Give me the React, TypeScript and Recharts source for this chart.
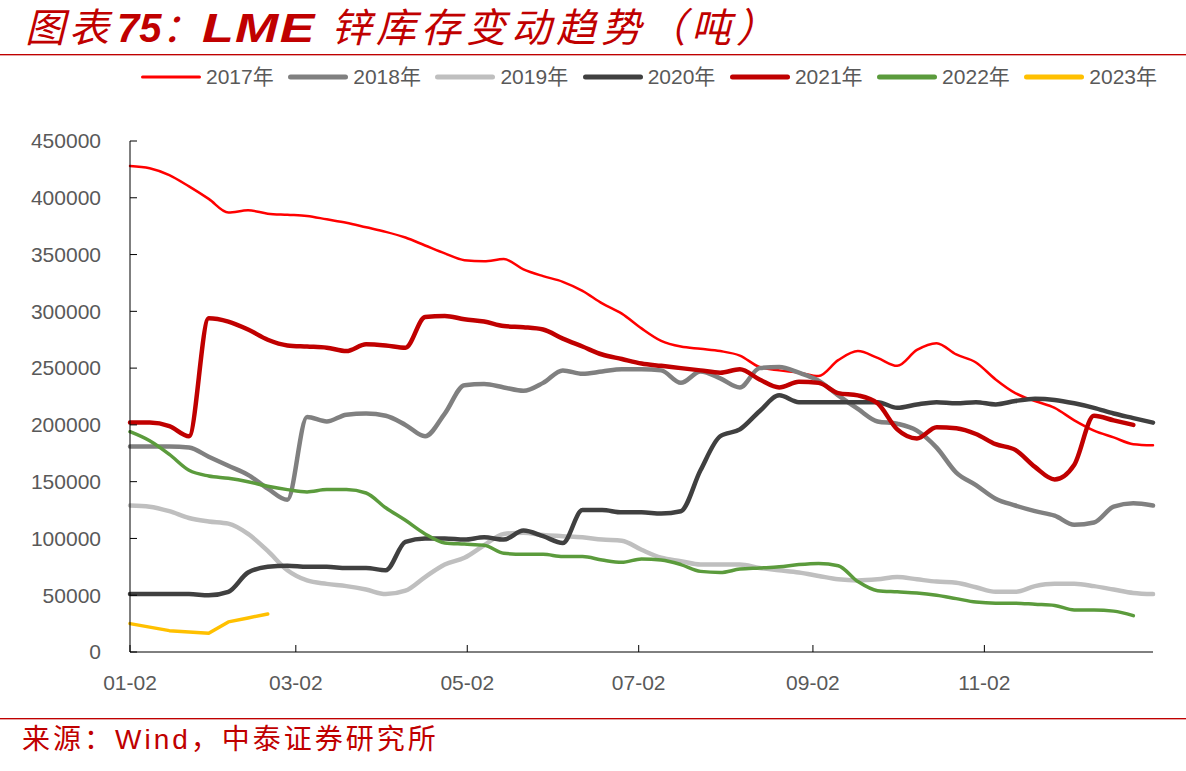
import React from "react";
import { LineChart, Line, XAxis, YAxis } from "recharts";

// day offsets from 01-02 (weekly samples)
const days = [
  0, 7, 14, 21, 28, 35, 42, 49, 56, 63, 70, 77, 84, 91, 98, 105, 112, 119, 126, 133,
  140, 147, 154, 161, 168, 175, 182, 189, 196, 203, 210, 217, 224, 231, 238, 245, 252,
  259, 266, 273, 280, 287, 294, 301, 308, 315, 322, 329, 336, 343, 350, 357, 364,
];
const tickDays = [0, 59, 120, 181, 243, 304];
const tickLabels = ["01-02", "03-02", "05-02", "07-02", "09-02", "11-02"];
const yTicks = [0, 50000, 100000, 150000, 200000, 250000, 300000, 350000, 400000, 450000];

const s2017 = [
  428000, 426000, 420000, 410000, 399000, 387000, 389000, 386000, 385000, 384000, 381000,
  378000, 374000, 370000, 365000, 358000, 351000, 345000, 344000, 346000, 337000, 331000,
  326000, 318000, 307000, 298000, 285000, 274000, 269000, 267000, 265000, 261000, 251000,
  248000, 246000, 243000, 257000, 265000, 259000, 252000, 266000, 272000, 262000, 255000,
  240000, 228000, 221000, 215000, 204000, 195000, 189000, 183000, 182000,
];
const s2018 = [
  181000, 181000, 181000, 180000, 172000, 164000, 156000, 144000, 134000, 207000, 203000,
  209000, 210000, 208000, 200000, 190000, 210000, 235000, 236000, 233000, 230000, 237000,
  248000, 245000, 247000, 249000, 249000, 248000, 237000, 247000, 241000, 233000, 250000,
  251000, 246000, 239000, 226000, 214000, 203000, 201000, 195000, 180000, 158000, 147000,
  135000, 129000, 124000, 120000, 112000, 114000, 128000, 131000, 129000,
];
const s2019 = [
  129000, 128000, 124000, 118000, 115000, 113000, 104000, 89000, 72000, 63000, 60000,
  58000, 55000, 51000, 54000, 66000, 77000, 83000, 94000, 104000, 105000, 103000, 102000,
  101000, 99000, 98000, 90000, 83000, 80000, 77000, 77000, 77000, 74000, 72000, 70000,
  67000, 64000, 63000, 64000, 66000, 64000, 62000, 61000, 57000, 53000, 53000, 58000,
  60000, 60000, 58000, 55000, 52000, 51000,
];
const s2020 = [
  51000, 51000, 51000, 51000, 50000, 53000, 70000, 75000, 76000, 75000, 75000, 74000,
  74000, 72000, 97000, 100000, 100000, 99000, 101000, 99000, 107000, 102000, 96000,
  125000, 125000, 123000, 123000, 122000, 124000, 160000, 190000, 196000, 212000, 226000,
  220000, 220000, 220000, 220000, 220000, 215000, 218000, 220000, 219000, 220000, 218000,
  221000, 223000, 222000, 219000, 215000, 210000, 206000, 202000,
];
const s2021 = [
  202000, 202000, 199000, 190000, 294000, 291000, 284000, 275000, 270000, 269000, 268000,
  265000, 271000, 270000, 268000, 295000, 296000, 293000, 291000, 287000, 286000, 284000,
  276000, 269000, 262000, 258000, 254000, 252000, 250000, 248000, 246000, 249000, 240000,
  233000, 238000, 237000, 228000, 226000, 219000, 196000, 188000, 198000, 197000, 192000,
  183000, 178000, 163000, 152000, 165000, 208000, 204000, 200000,
];
const s2022 = [
  194000, 186000, 174000, 160000, 155000, 153000, 150000, 146000, 143000, 141000, 143000,
  143000, 140000, 127000, 116000, 104000, 96000, 95000, 94000, 87000, 86000, 86000, 84000,
  84000, 81000, 79000, 82000, 81000, 77000, 71000, 70000, 73000, 74000, 75000, 77000,
  78000, 76000, 62000, 54000, 53000, 52000, 50000, 47000, 44000, 43000, 43000, 42000,
  41000, 37000, 37000, 36000, 32000,
];
const s2023 = [25000, 21900, 18800, 17700, 16600, 26500, 30000, 33500];

const series = [
  { key: "y2017", name: "2017年", values: s2017, color: "#FF0000", width: 2.5, legendWidth: 3, type: "monotone" },
  { key: "y2018", name: "2018年", values: s2018, color: "#808080", width: 4.5, legendWidth: 5, type: "monotone" },
  { key: "y2019", name: "2019年", values: s2019, color: "#BFBFBF", width: 4.5, legendWidth: 5, type: "monotone" },
  { key: "y2020", name: "2020年", values: s2020, color: "#404040", width: 4.5, legendWidth: 5, type: "monotone" },
  { key: "y2021", name: "2021年", values: s2021, color: "#C00000", width: 4.5, legendWidth: 5, type: "monotone" },
  { key: "y2022", name: "2022年", values: s2022, color: "#5B9B3C", width: 3.5, legendWidth: 5, type: "monotone" },
  { key: "y2023", name: "2023年", values: s2023, color: "#FFC000", width: 3.5, legendWidth: 5, type: "linear" },
];

const rows = days.map((d, i) => {
  const row: Record<string, number | null> = { d };
  series.forEach((s) => {
    row[s.key] = s.values[i] ?? null;
  });
  return row;
});

const FONT = '"Liberation Sans", Arial, "Noto Sans CJK SC", sans-serif';
const TICK_COLOR = "#595959";
const Y_MARGIN = 29;
const X_MARGIN = 23;

function YTick(props: any) {
  const { x, y, payload } = props;
  const axisX = x + Y_MARGIN;
  return (
    <g>
      <line x1={axisX} x2={axisX + 7} y1={y} y2={y} stroke="#000" strokeWidth={1} />
      <text x={x} y={y} dy="0.35em" textAnchor="end" fill={TICK_COLOR} fontSize={21} fontFamily={FONT}>
        {payload.value}
      </text>
    </g>
  );
}

function XTick(props: any) {
  const { x, y, payload } = props;
  const axisY = y - X_MARGIN;
  const idx = tickDays.indexOf(payload.value);
  return (
    <g>
      <line x1={x} x2={x} y1={axisY} y2={axisY - 7} stroke="#000" strokeWidth={1} />
      <text x={x} y={y} dy="0.71em" textAnchor="middle" fill={TICK_COLOR} fontSize={21} fontFamily={FONT}>
        {idx >= 0 ? tickLabels[idx] : ""}
      </text>
    </g>
  );
}

export default function App() {
  return (
    <div style={{ position: "relative", width: 1186, height: 771, background: "#fff", fontFamily: FONT, overflow: "hidden" }}>
      <style>{"body{margin:0;}"}</style>

      <div
        style={{
          position: "absolute",
          left: 25,
          top: 0,
          lineHeight: "56px",
          fontSize: 40,
          fontStyle: "italic",
          color: "#C00000",
          whiteSpace: "nowrap",
          fontFamily: '"Liberation Sans", "Noto Sans CJK SC", sans-serif',
        }}
      >
        <span style={{ letterSpacing: 4 }}>图表</span>
        <span style={{ fontWeight: 700, marginLeft: 4 }}>75</span>
        <span>：</span>
        <span
          style={{
            fontWeight: 700,
            display: "inline-block",
            transform: "scaleX(1.3)",
            transformOrigin: "left center",
            letterSpacing: 1,
            marginRight: 26,
          }}
        >
          LME
        </span>
        <span style={{ letterSpacing: 5 }}> 锌库存变动趋势（吨）</span>
      </div>
      <div style={{ position: "absolute", left: 0, top: 54, width: 1186, height: 1, background: "#C00000" }} />
      <div style={{ position: "absolute", left: 0, top: 55, width: 1186, height: 1, background: "#E5A5A5" }} />

      <div
        style={{
          position: "absolute",
          left: 141,
          top: 66,
          height: 22,
          display: "flex",
          alignItems: "center",
          whiteSpace: "nowrap",
        }}
      >
        {series.map((s) => (
          <div key={s.key} style={{ display: "flex", alignItems: "center", marginRight: 14.5 }}>
            <svg width={60} height={10} style={{ marginRight: 5 }}>
              <line
                x1={s.legendWidth / 2}
                x2={60 - s.legendWidth / 2}
                y1={5}
                y2={5}
                stroke={s.color}
                strokeWidth={s.legendWidth}
                strokeLinecap="round"
              />
            </svg>
            <span style={{ fontSize: 21, color: TICK_COLOR, lineHeight: "22px" }}>{s.name}</span>
          </div>
        ))}
      </div>

      <div style={{ position: "absolute", left: 0, top: 0 }}>
        <LineChart width={1186} height={771} data={rows} margin={{ top: 141, right: 33, bottom: 89, left: 0 }}>
          <XAxis
            dataKey="d"
            type="number"
            domain={[0, 364]}
            ticks={tickDays}
            interval={0}
            height={30}
            tickSize={0}
            tickMargin={X_MARGIN}
            tick={<XTick />}
            axisLine={{ stroke: "#000", strokeWidth: 1 }}
            tickLine={false}
          />
          <YAxis
            type="number"
            domain={[0, 450000]}
            ticks={yTicks}
            interval={0}
            width={130}
            tickSize={0}
            tickMargin={Y_MARGIN}
            tick={<YTick />}
            axisLine={{ stroke: "#000", strokeWidth: 1 }}
            tickLine={false}
          />
          {series.map((s) => (
            <Line
              key={s.key}
              dataKey={s.key}
              name={s.name}
              type={s.type as any}
              stroke={s.color}
              strokeWidth={s.width}
              strokeLinecap="round"
              strokeLinejoin="round"
              dot={false}
              activeDot={false}
              isAnimationActive={false}
            />
          ))}
        </LineChart>
      </div>

      <div style={{ position: "absolute", left: 0, top: 718, width: 1186, height: 1, background: "#C00000" }} />
      <div style={{ position: "absolute", left: 0, top: 719, width: 1186, height: 1, background: "#E5A5A5" }} />
      <div
        style={{
          position: "absolute",
          left: 22,
          top: 720,
          fontSize: 28,
          lineHeight: "40px",
          color: "#C00000",
          letterSpacing: 3,
          whiteSpace: "nowrap",
          fontFamily: '"Liberation Sans", "Noto Sans CJK SC", sans-serif',
        }}
      >
        来源：Wind，中泰证券研究所
      </div>
    </div>
  );
}
